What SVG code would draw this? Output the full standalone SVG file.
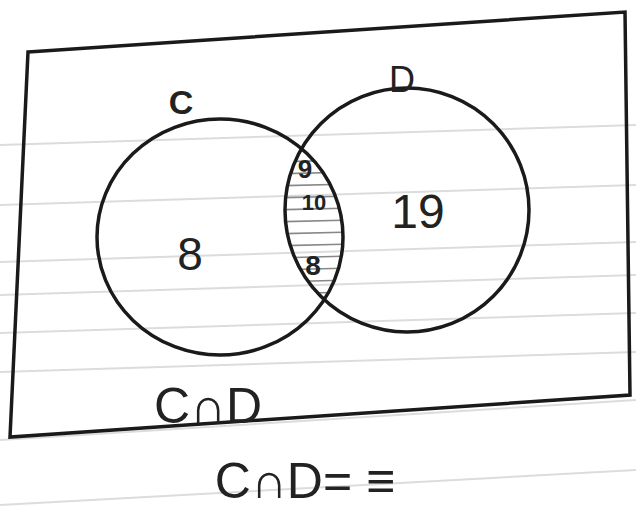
<svg xmlns="http://www.w3.org/2000/svg" width="636" height="510" viewBox="0 0 636 510">
<style>
.ink{fill:none;stroke:#1a1a1a;stroke-width:3.5}
.rule{stroke:#dcdcdc;stroke-width:2}
.t{font-family:"Liberation Sans",Arial,sans-serif;fill:#222}
.hatch{stroke:#888;stroke-width:1.5}
</style>
<defs>
<clipPath id="clipD"><ellipse cx="407" cy="210" rx="122" ry="122"/></clipPath>
<clipPath id="clipC"><ellipse cx="220" cy="237" rx="123" ry="118"/></clipPath>
</defs>
<rect width="636" height="510" fill="#fff"/>
<g id="paper-lines">
<line class="rule" x1="0" y1="145" x2="636" y2="125"/>
<line class="rule" x1="0" y1="205" x2="636" y2="185"/>
<line class="rule" x1="0" y1="262" x2="636" y2="242"/>
<line class="rule" x1="0" y1="295" x2="636" y2="275"/>
<line class="rule" x1="0" y1="333" x2="636" y2="313"/>
<line class="rule" x1="0" y1="372" x2="636" y2="352"/>
<line class="rule" x1="0" y1="440" x2="636" y2="400" stroke="#bbb"/>
<line class="rule" x1="0" y1="505" x2="636" y2="470" stroke="#bbb"/>
</g>
<g id="universe">
<path class="ink" d="M28,52 L625,12 L630,395 L10,437 Z" stroke-width="2.5"/>
</g>
<g id="intersection">
<g clip-path="url(#clipD)"><g clip-path="url(#clipC)">
<line class="hatch" x1="270" y1="150" x2="350" y2="148"/>
<line class="hatch" x1="270" y1="162" x2="350" y2="160"/>
<line class="hatch" x1="270" y1="174" x2="350" y2="172"/>
<line class="hatch" x1="270" y1="186" x2="350" y2="184"/>
<line class="hatch" x1="270" y1="198" x2="350" y2="196"/>
<line class="hatch" x1="270" y1="210" x2="350" y2="208"/>
<line class="hatch" x1="270" y1="222" x2="350" y2="220"/>
<line class="hatch" x1="270" y1="234" x2="350" y2="232"/>
<line class="hatch" x1="270" y1="246" x2="350" y2="244"/>
<line class="hatch" x1="270" y1="258" x2="350" y2="256"/>
<line class="hatch" x1="270" y1="270" x2="350" y2="268"/>
<line class="hatch" x1="270" y1="282" x2="350" y2="280"/>
<line class="hatch" x1="270" y1="294" x2="350" y2="292"/>
</g></g>
<text class="t" x="305" y="178" font-size="26" font-weight="bold" text-anchor="middle">9</text>
<text class="t" x="314" y="210" font-size="22" font-weight="bold" text-anchor="middle">10</text>
<text class="t" x="313" y="275" font-size="28" font-weight="bold" text-anchor="middle">8</text>
</g>
<g id="set-C">
<ellipse class="ink" cx="220" cy="237" rx="123" ry="118"/>
<text class="t" x="181" y="114" font-size="34" font-weight="bold" text-anchor="middle">C</text>
<text class="t" x="190" y="270" font-size="46" text-anchor="middle">8</text>
</g>
<g id="set-D">
<ellipse class="ink" cx="407" cy="210" rx="122" ry="122"/>
<text class="t" x="402" y="92" font-size="36" text-anchor="middle">D</text>
<text class="t" x="418" y="228" font-size="48" text-anchor="middle">19</text>
</g>
<g id="labels">
<text class="t" x="208" y="423" font-size="50" text-anchor="middle">C∩D</text>
<text class="t" x="305" y="498" font-size="50" text-anchor="middle">C∩D= ≡</text>
</g>
</svg>
